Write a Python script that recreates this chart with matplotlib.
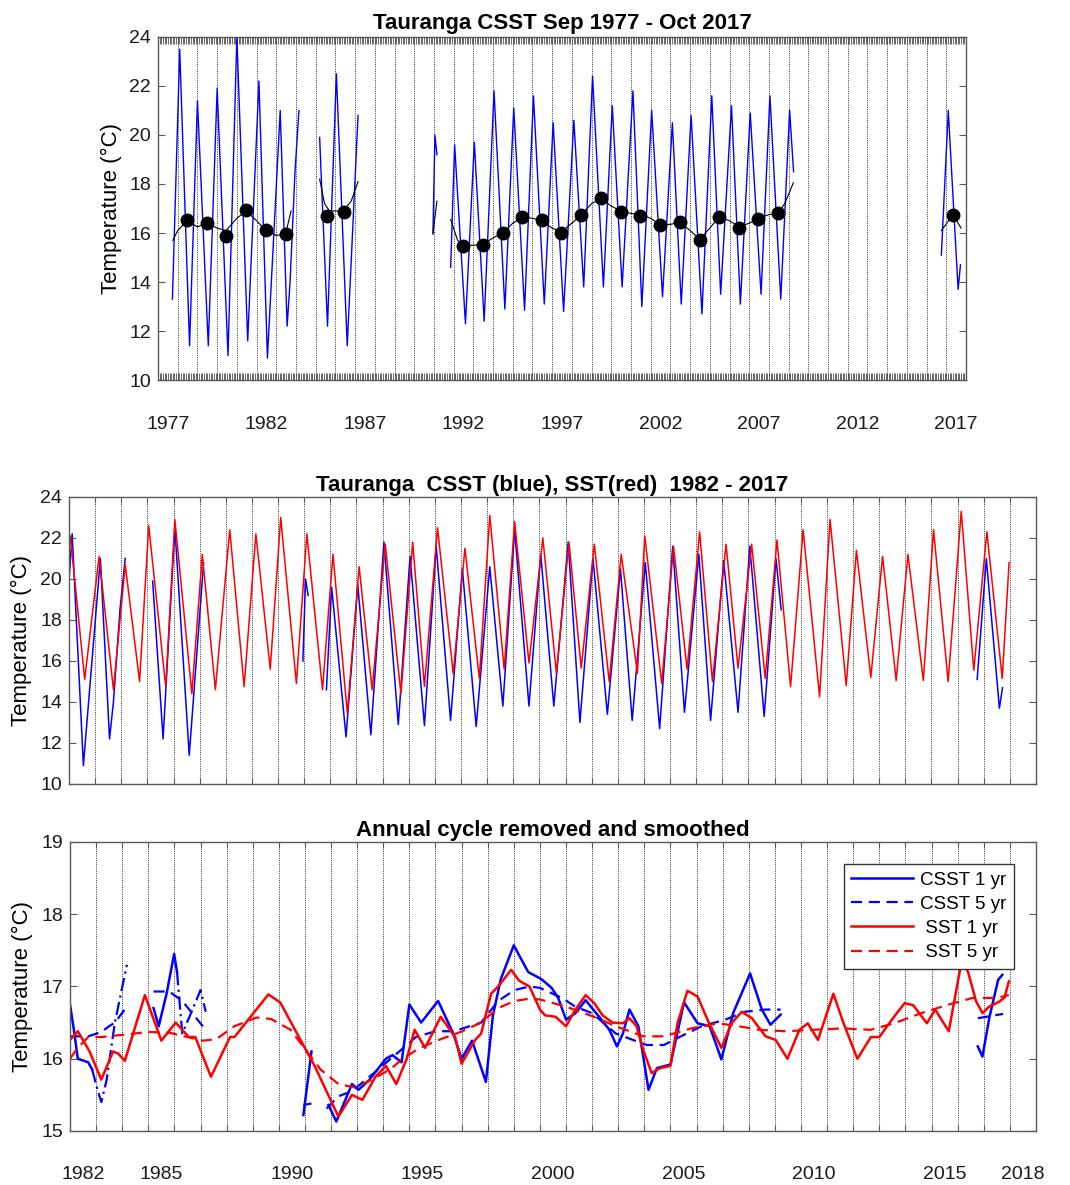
import numpy as np
import matplotlib
matplotlib.use("Agg")
import matplotlib.pyplot as plt
from matplotlib.ticker import FixedLocator, NullFormatter, FixedFormatter

plt.rcParams['font.family'] = ['Liberation Sans', 'DejaVu Sans']

nan = np.nan

# ---- CSST (coastal) series: seasonal peaks / troughs, NaN marks data gaps
csst_time = [1977.73, 1978.10, 1978.60, 1979.00, 1979.55, 1980.00, 1980.55,
             1981.00, 1981.55, 1982.12, 1982.55, 1983.20, 1983.55, 1983.70,
             1983.95, 1984.15, nan,
             1985.20, 1985.60, 1986.05, 1986.60, 1987.15, nan,
             1990.95, 1991.05, 1991.15, nan,
             1991.85, 1992.05, 1992.60, 1993.05, 1993.55, 1994.05, 1994.60,
             1995.05, 1995.60, 1996.05, 1996.60, 1997.05, 1997.58, 1998.10,
             1998.60, 1999.05, 1999.60, 2000.05, 2000.55, 2001.10, 2001.55,
             2002.05, 2002.60, 2003.10, 2003.55, 2004.05, 2004.60, 2005.10,
             2005.55, 2006.10, 2006.55, 2007.05, 2007.60, 2008.05, 2008.60,
             2009.05, 2009.25, nan,
             2016.75, 2017.10, 2017.60, 2017.72]
csst_temp = [13.3, 23.5, 11.4, 21.4, 11.4, 21.9, 11.0,
             24.0, 11.6, 22.2, 10.9, 21.0, 12.2, 14.0,
             18.5, 21.0, nan,
             19.9, 12.2, 22.5, 11.4, 20.8, nan,
             16.0, 20.0, 19.2, nan,
             14.6, 19.6, 12.3, 19.7, 12.4, 21.8, 12.9,
             21.1, 12.85, 21.6, 13.1, 20.5, 12.8, 20.6,
             13.8, 22.4, 13.8, 21.2, 13.8, 21.8, 13.0,
             21.0, 13.4, 20.5, 13.1, 20.8, 12.7, 21.6,
             13.5, 21.2, 13.1, 20.9, 13.5, 21.6, 13.3,
             21.0, 18.5, nan,
             15.1, 21.0, 13.7, 14.7]

# ---- annual means (black dots) and their smooth curve
mean_time = [1978.47, 1979.47, 1980.45, 1981.47, 1982.48, 1983.47, 1985.55,
             1986.42, 1992.49, 1993.50, 1994.50, 1995.48, 1996.47, 1997.46,
             1998.48, 1999.47, 2000.47, 2001.47, 2002.46, 2003.47, 2004.49,
             2005.47, 2006.49, 2007.47, 2008.47, 2017.34]
mean_temp = [16.53, 16.42, 15.88, 16.93, 16.12, 15.94, 16.70,
             16.85, 15.48, 15.50, 15.98, 16.64, 16.53, 16.02,
             16.72, 17.42, 16.85, 16.70, 16.34, 16.45, 15.70,
             16.66, 16.20, 16.58, 16.80, 16.72]

curve_time = [1977.75, 1978.0, 1978.47, 1979.0, 1979.47, 1980.0, 1980.45,
              1981.0, 1981.47, 1982.0, 1982.48, 1983.0, 1983.47, 1983.75, nan,
              1985.2, 1985.45, 1985.7, 1986.4, 1986.8, 1987.15, nan,
              1990.95, 1991.15, nan,
              1991.85, 1992.2, 1992.49, 1993.0, 1993.5, 1994.0, 1994.5, 1995.0,
              1995.48, 1996.0, 1996.47, 1997.0, 1997.46, 1998.0, 1998.48,
              1999.0, 1999.47, 2000.0, 2000.47, 2001.0, 2001.47, 2002.0,
              2002.46, 2003.0, 2003.47, 2004.0, 2004.49, 2005.0, 2005.47,
              2006.0, 2006.49, 2007.0, 2007.47, 2008.0, 2008.47, 2008.8,
              2009.24, nan,
              2016.75, 2017.34, 2017.75]
curve_temp = [15.7, 16.1, 16.5, 16.25, 16.4, 16.2, 16.1,
              16.6, 16.9, 16.5, 16.1, 15.9, 15.95, 16.9, nan,
              18.2, 17.2, 16.9, 16.9, 17.3, 18.1, nan,
              15.95, 17.3, nan,
              16.55, 15.7, 15.5, 15.5, 15.55, 15.8, 16.0, 16.4,
              16.65, 16.6, 16.5, 16.2, 16.05, 16.4, 16.75,
              17.2, 17.4, 17.1, 16.9, 16.8, 16.75, 16.6,
              16.35, 16.35, 16.45, 16.1, 15.75, 16.2, 16.65,
              16.5, 16.25, 16.4, 16.6, 16.75, 16.8, 17.2,
              18.05, nan,
              16.1, 16.75, 16.2]

# ---- SST (satellite) series: seasonal peaks / troughs
sst_time = [1982.00, 1982.05, 1982.60, 1983.15, 1983.70, 1984.15, 1984.70,
            1985.05, 1985.70, 1986.05, 1986.70, 1987.10, 1987.60, 1988.15,
            1988.70, 1989.15, 1989.70, 1990.10, 1990.70, 1991.10, 1991.70,
            1992.10, 1992.65, 1993.10, 1993.60, 1994.10, 1994.70, 1995.15,
            1995.60, 1996.10, 1996.70, 1997.15, 1997.70, 1998.10, 1998.65,
            1999.05, 1999.60, 2000.13, 2000.65, 2001.13, 2001.60, 2002.10,
            2002.67, 2003.13, 2003.75, 2004.03, 2004.68, 2005.13, 2005.65,
            2006.13, 2006.62, 2007.14, 2007.60, 2008.12, 2008.64, 2009.09,
            2009.61, 2010.09, 2010.72, 2011.12, 2011.74, 2012.13, 2012.68,
            2013.13, 2013.65, 2014.10, 2014.69, 2015.08, 2015.64, 2016.14,
            2016.62, 2017.12, 2017.71, 2017.97]
sst_temp = [21.5, 22.1, 15.1, 21.1, 14.6, 20.7, 15.0,
            22.6, 14.75, 22.9, 14.4, 21.2, 14.6, 22.4,
            14.75, 22.2, 15.6, 23.0, 14.9, 22.2, 14.6,
            21.2, 13.45, 20.6, 14.6, 21.7, 14.4, 21.8,
            14.75, 22.5, 15.4, 21.5, 15.15, 23.1, 15.6,
            22.8, 15.9, 22.0, 15.4, 21.8, 15.65, 21.7,
            15.0, 21.2, 15.4, 22.1, 14.9, 21.6, 15.6,
            22.3, 15.0, 21.7, 15.65, 21.7, 15.15, 21.9,
            14.75, 22.4, 14.25, 22.9, 14.8, 21.4, 15.2,
            21.1, 15.05, 21.2, 15.05, 22.4, 15.0, 23.3,
            15.55, 22.3, 15.15, 20.8]

# ---- anomalies, annual cycle removed and smoothed
csst1_time = [1982.0, 1982.15, 1982.3, 1982.7, 1982.85, nan,
              1985.2, 1985.4, 1985.7, 1985.99, 1986.1, nan,
              1990.94, 1991.25, nan,
              1991.9, 1992.2, 1992.8, 1993.05, 1993.45, 1994.1, 1994.35,
              1994.7, 1995.0, 1995.45, 1996.1, 1996.68, 1997.0, 1997.4,
              1997.93, 1998.2, 1998.5, 1999.0, 1999.25, 1999.55, 2000.06,
              2000.45, 2000.7, 2001.0, 2001.36, 2001.75, 2002.27, 2002.66,
              2002.95, 2003.18, 2003.43, 2003.77, 2004.16, 2004.48, 2005.0,
              2005.52, 2006.04, 2006.5, 2006.95, 2007.4, 2008.05, 2008.5,
              2008.83, 2009.22, nan,
              2016.77, 2016.95, 2017.22, 2017.55, 2017.71]
csst1_temp = [16.75, 16.4, 16.0, 15.95, 15.85, nan,
              16.7, 16.45, 16.9, 17.45, 17.2, nan,
              15.22, 16.1, nan,
              15.36, 15.13, 15.65, 15.57, 15.7, 16.0, 16.05,
              15.95, 16.75, 16.5, 16.8, 16.35, 16.0, 16.25,
              15.68, 16.6, 17.1, 17.57, 17.4, 17.2, 17.1,
              16.98, 16.84, 16.54, 16.63, 16.81, 16.58, 16.4,
              16.17, 16.35, 16.68, 16.45, 15.57, 15.87, 15.92,
              16.78, 16.49, 16.45, 15.99, 16.63, 17.18, 16.68,
              16.47, 16.61, nan,
              16.17, 16.03, 16.58, 17.09, 17.16]
# sparse-data stretches of the CSST 1 yr curve (drawn broken)
csst1_sparse_time = [1982.85, 1983.07, 1983.2, 1983.4, 1983.72, 1984.18, nan,
                     1986.1, 1986.3, 1986.6, 1987.0, 1987.2]
csst1_sparse_temp = [15.85, 15.55, 15.4, 15.7, 16.5, 17.3, nan,
                     17.2, 16.35, 16.6, 16.95, 16.65]

csst5_time = [1982.0, 1982.7, 1983.2, 1983.5, 1983.72, 1984.18, nan,
              1985.2, 1985.8, 1986.3, 1986.75, 1987.2, nan,
              1990.94, 1991.25, nan,
              1991.83, 1992.28, 1992.8, 1993.3, 1993.8, 1994.45, 1995.25,
              1996.0, 1996.7, 1997.75, 1998.4, 1999.03, 1999.6, 2000.0,
              2000.85, 2001.36, 2002.0, 2002.9, 2003.56, 2004.1, 2004.75,
              2005.4, 2006.2, 2007.1, 2007.85, 2008.64, 2009.22, nan,
              2016.77, 2017.74]
csst5_temp = [16.31, 16.31, 16.37, 16.45, 16.5, 16.72, nan,
              16.93, 16.93, 16.8, 16.6, 16.4, nan,
              15.36, 15.38, nan,
              15.31, 15.48, 15.55, 15.7, 15.85, 16.05, 16.3,
              16.38, 16.38, 16.5, 16.8, 16.95, 17.0, 16.98,
              16.84, 16.72, 16.63, 16.35, 16.26, 16.19, 16.19,
              16.31, 16.45, 16.54, 16.65, 16.68, 16.68, nan,
              16.56, 16.62]

sst1_time = [1982.0, 1982.3, 1982.75, 1983.2, 1983.65, 1983.85, 1984.1,
             1984.87, 1985.5, 1986.05, 1986.55, 1986.8, 1987.4, 1988.13,
             1988.3, 1988.96, 1989.6, 1990.05, 1990.77, 1991.37, 1992.28,
             1992.8, 1993.2, 1993.7, 1994.1, 1994.5, 1994.9, 1995.2,
             1995.6, 1996.2, 1996.75, 1997.0, 1997.5, 1997.75, 1998.13,
             1998.4, 1998.9, 1999.2, 1999.6, 2000.0, 2000.2, 2000.6,
             2001.0, 2001.36, 2001.75, 2002.08, 2002.4, 2002.78, 2003.17,
             2003.43, 2003.7, 2003.96, 2004.28, 2004.6, 2005.0, 2005.27,
             2005.65, 2006.04, 2006.43, 2006.95, 2007.34, 2007.73, 2008.12,
             2008.64, 2009.03, 2009.48, 2009.94, 2010.26, 2010.65, 2011.24,
             2011.63, 2012.16, 2012.68, 2013.0, 2013.52, 2013.97, 2014.3,
             2014.82, 2015.14, 2015.66, 2016.15, 2016.4, 2016.7, 2016.95,
             2017.2, 2017.6, 2017.8, 2017.96]
sst1_temp = [16.26, 16.38, 16.1, 15.71, 16.1, 16.07, 15.97,
             16.88, 16.25, 16.5, 16.3, 16.3, 15.75, 16.3,
             16.3, 16.6, 16.89, 16.78, 16.3, 15.9, 15.2,
             15.5, 15.43, 15.75, 15.9, 15.65, 16.0, 16.4,
             16.15, 16.58, 16.3, 15.93, 16.25, 16.35, 16.9,
             17.0, 17.23, 17.08, 17.0, 16.68, 16.6, 16.58,
             16.45, 16.68, 16.88, 16.77, 16.6, 16.5, 16.49,
             16.56, 16.45, 16.12, 15.8, 15.87, 15.9, 16.49,
             16.94, 16.86, 16.53, 16.15, 16.49, 16.65, 16.56,
             16.31, 16.26, 16.0, 16.4, 16.49, 16.26, 16.9,
             16.49, 16.0, 16.3, 16.3, 16.56, 16.77, 16.74,
             16.49, 16.68, 16.38, 17.35, 17.2, 16.8, 16.63,
             16.72, 16.79, 16.85, 17.07]

sst5_time = [1982.0, 1982.3, 1982.7, 1983.2, 1984.0, 1985.0, 1985.8, 1986.5,
             1987.1, 1987.6, 1988.3, 1989.15, 1989.7, 1990.45, 1990.97,
             1991.6, 1992.28, 1992.95, 1993.6, 1994.25, 1994.75, 1995.4,
             1996.2, 1996.96, 1997.75, 1998.4, 1999.03, 1999.6, 2000.0,
             2001.0, 2002.0, 2002.9, 2003.96, 2004.75, 2005.8, 2006.83,
             2007.6, 2008.38, 2009.42, 2010.45, 2011.62, 2012.66, 2013.57,
             2014.6, 2015.66, 2016.56, 2017.47, 2017.96]
sst5_temp = [16.0, 16.15, 16.3, 16.3, 16.33, 16.37, 16.36, 16.3,
             16.25, 16.27, 16.45, 16.57, 16.55, 16.4, 16.15,
             15.85, 15.65, 15.6, 15.72, 15.85, 16.0, 16.15,
             16.27, 16.37, 16.5, 16.7, 16.8, 16.83, 16.82,
             16.72, 16.59, 16.45, 16.31, 16.31, 16.42, 16.49,
             16.45, 16.4, 16.38, 16.4, 16.42, 16.4, 16.49,
             16.63, 16.75, 16.84, 16.84, 16.88]

top_labels = ['1977', '1982', '1987', '1992', '1997', '2002', '2007', '2012', '2017']
bottom_labels = ['1982', '1985', '1990', '1995', '2000', '2005', '2010', '2015', '2018']

FS = 14
frame = '0.35'
ylab = 'Temperature (\u00b0C)'


def year_grid(ax, years):
    for y in years:
        ax.axvline(y, color='0.2', lw=0.7, ls=(0, (1, 1.3)), zorder=0)


def style(ax):
    for s in ax.spines.values():
        s.set_color(frame)
        s.set_linewidth(1.0)
    ax.tick_params(axis='y', direction='in', length=5, left=True, right=True,
                   labelsize=FS, pad=5, color=frame, labelcolor='0.1')


fig = plt.figure(figsize=(10.7, 11.85), dpi=100)

# ---------------- top panel
ax1 = fig.add_axes([0.1477, 0.6793, 0.7551, 0.2895])
year_grid(ax1, np.arange(1978, 2018))
ax1.plot(csst_time, csst_temp, color='blue', lw=1.0)
ax1.plot(curve_time, curve_temp, color='k', lw=0.8)
ax1.plot(mean_time, mean_temp, 'o', color='k', ms=9)
ax1.set_xlim(1977, 2018)
ax1.set_ylim(10, 24)
ax1.set_yticks(range(10, 25, 2))
ax1.xaxis.remove_overlapping_locs = False
ax1.xaxis.set_major_locator(FixedLocator(np.arange(1977, 2018.001, 1 / 12)))
ax1.xaxis.set_major_formatter(NullFormatter())
ax1.xaxis.set_minor_locator(FixedLocator(np.arange(1977.5, 2018, 5)))
ax1.xaxis.set_minor_formatter(FixedFormatter(top_labels))
ax1.tick_params(axis='x', which='major', direction='in', length=5, width=0.6,
                top=True, bottom=True, color='0.3')
ax1.tick_params(axis='x', which='minor', length=0, pad=26, labelsize=FS,
                labelcolor='0.1')
style(ax1)
ax1.set_ylabel(ylab, fontsize=16)
ax1.yaxis.set_label_coords(-0.0446, 0.5)
ax1.set_title('Tauranga CSST Sep 1977 - Oct 2017', fontsize=16,
              fontweight='bold', pad=6)

# ---------------- middle panel
ax2 = fig.add_axes([0.0645, 0.3384, 0.9037, 0.2422])
year_grid(ax2, np.arange(1983, 2019))
ax2.plot(csst_time, csst_temp, color='blue', lw=1.1)
ax2.plot(sst_time, sst_temp, color='red', lw=1.1)
ax2.set_xlim(1982, 2019)
ax2.set_ylim(10, 24)
ax2.set_yticks(range(10, 25, 2))
ax2.set_xticks(np.arange(1983, 2019))
ax2.set_xticklabels([])
ax2.tick_params(axis='x', direction='in', length=4, top=True, bottom=True,
                color=frame)
style(ax2)
ax2.set_ylabel(ylab, fontsize=16)
ax2.yaxis.set_label_coords(-0.038, 0.5)
ax2.set_title('Tauranga  CSST (blue), SST(red)  1982 - 2017', fontsize=16,
              fontweight='bold', pad=4)

# ---------------- bottom panel
ax3 = fig.add_axes([0.0654, 0.0456, 0.9028, 0.2439])
year_grid(ax3, np.arange(1983, 2019))
ax3.plot(csst1_time, csst1_temp, color='blue', lw=1.8, label='CSST 1 yr')
ax3.plot(csst1_sparse_time, csst1_sparse_temp, color='blue', lw=1.6,
         ls=(0, (6, 2, 1, 2)))
ax3.plot(csst5_time, csst5_temp, color='blue', lw=1.6, ls=(0, (5, 3)),
         label='CSST 5 yr')
ax3.plot(sst1_time, sst1_temp, color='red', lw=1.8, label=' SST 1 yr')
ax3.plot(sst5_time, sst5_temp, color='red', lw=1.6, ls=(0, (5, 3)),
         label=' SST 5 yr')
ax3.set_xlim(1982, 2019)
ax3.set_ylim(15, 19)
ax3.set_yticks(range(15, 20))
ax3.set_xticks(np.arange(1983, 2019))
ax3.xaxis.set_major_formatter(NullFormatter())
ax3.xaxis.set_minor_locator(FixedLocator([1982.5, 1985.5, 1990.5, 1995.5,
                                          2000.5, 2005.5, 2010.5, 2015.5,
                                          2018.5]))
ax3.xaxis.set_minor_formatter(FixedFormatter(bottom_labels))
ax3.tick_params(axis='x', which='major', direction='in', length=4, top=True,
                bottom=True, color=frame)
ax3.tick_params(axis='x', which='minor', length=0, pad=25, labelsize=FS,
                labelcolor='0.1')
style(ax3)
ax3.set_ylabel(ylab, fontsize=16)
ax3.yaxis.set_label_coords(-0.038, 0.5)
ax3.set_title('Annual cycle removed and smoothed', fontsize=16,
              fontweight='bold', pad=4)
leg = ax3.legend(loc='upper right', bbox_to_anchor=(0.977, 0.924),
                 borderaxespad=0, fontsize=13.5, handlelength=3.3,
                 handletextpad=0.35, labelspacing=0.38, borderpad=0.4,
                 fancybox=False, framealpha=1, edgecolor='0.2')
leg.get_frame().set_linewidth(1.0)
leg.set_zorder(5)

fig.savefig('out.png', dpi=100)
